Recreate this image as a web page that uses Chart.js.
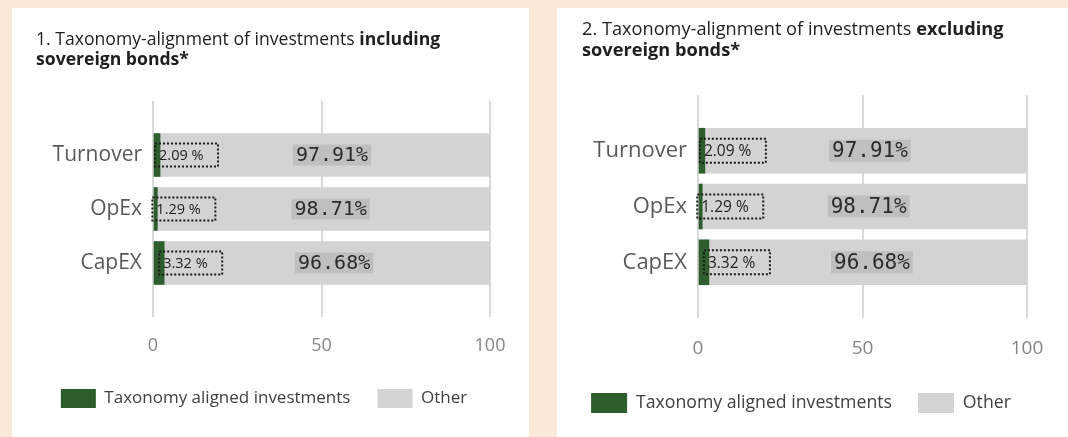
<!DOCTYPE html>
<html><head><meta charset="utf-8">
<script src="https://cdn.jsdelivr.net/npm/chart.js@4.4.1/dist/chart.umd.min.js"></script>
<style>
html,body{margin:0;padding:0;background:#fae8d8;width:1068px;height:437px;overflow:hidden;font-family:'Open Sans',sans-serif}
.panel{position:absolute;background:#fff;top:8px;height:429px}
#p1{left:12px;width:517px}
#p2{left:557px;width:511px}
.panel canvas{position:absolute;left:0;top:0}
.title{position:absolute;color:#1f1f1f;white-space:nowrap}
.title b{font-weight:700}
#t1{left:24px;top:20px;font-size:17.6px;line-height:20px}
#t2{left:25px;top:10px;font-size:18.2px;line-height:21px}
</style></head>
<body>
<div class="panel" id="p1"><canvas id="c1"></canvas><div class="title" id="t1">1. Taxonomy-alignment of investments <b>including</b><br><b>sovereign bonds*</b></div></div>
<div class="panel" id="p2"><canvas id="c2"></canvas><div class="title" id="t2">2. Taxonomy-alignment of investments <b>excluding</b><br><b>sovereign bonds*</b></div></div>
<script>
// ---- data ----
const categories = ['Turnover', 'OpEx', 'CapEX'];
const seriesNames = ['Taxonomy aligned investments', 'Other'];
const alignedIncluding = [2.09, 1.29, 3.32];
const otherIncluding = [97.91, 98.71, 96.68];
const alignedExcluding = [2.09, 1.29, 3.32];
const otherExcluding = [97.91, 98.71, 96.68];
const xTickValues = [0, 50, 100];

const GREEN = '#2e5e2e';
const GREY = '#d3d3d3';

const labelPlugin = {
  id: 'valueLabels',
  afterDatasetsDraw(chart, args, o) {
    const ctx = chart.ctx;
    const m0 = chart.getDatasetMeta(0), m1 = chart.getDatasetMeta(1);
    const d0 = chart.data.datasets[0].data, d1 = chart.data.datasets[1].data;
    ctx.save();
    m0.data.forEach((bar, i) => {
      if (d0[i] == null) return;
      const yc = bar.y;
      // small dotted box with aligned value
      const bx = Math.max(bar.x, bar.base) - o.back;
      const bw = o.boxW, bh = o.boxH;
      ctx.setLineDash([2, 2]);
      ctx.lineWidth = 2;
      ctx.strokeStyle = '#1a1a1a';
      ctx.strokeRect(bx + 1, yc - bh / 2, bw, bh);
      ctx.setLineDash([]);
      ctx.font = o.smallFont;
      ctx.fillStyle = '#222222';
      ctx.textAlign = 'left';
      ctx.textBaseline = 'middle';
      ctx.fillText(d0[i].toFixed(2) + ' %', bx + 5, yc + 1);
      // big label on "other" segment
      const ob = m1.data[i];
      const cx = (ob.x + ob.base) / 2 + o.shift;
      ctx.font = o.bigFont;
      const txt = d1[i].toFixed(2) + '%';
      const tw = ctx.measureText(txt).width;
      ctx.fillStyle = '#bfbfbf';
      ctx.fillRect(cx - tw / 2 - 3, yc - o.bigH / 2, tw + 6, o.bigH);
      ctx.fillStyle = '#2b2b2b';
      ctx.textAlign = 'center';
      ctx.fillText(txt, cx, yc + 1);
    });
    ctx.restore();
  }
};

function makeChart(id, aligned, other, p) {
  const cv = document.getElementById(id);
  cv.width = p.w; cv.height = p.h;
  cv.style.width = p.w + 'px'; cv.style.height = p.h + 'px';
  const labels = [''].concat(categories, ['']);
  const a = [null].concat(aligned, [null]);
  const b = [null].concat(other, [null]);
  return new Chart(cv, {
    type: 'bar',
    data: {
      labels: labels,
      datasets: [
        { label: seriesNames[0], data: a, backgroundColor: GREEN, borderWidth: 0, barThickness: p.bar },
        { label: seriesNames[1], data: b, backgroundColor: GREY, borderWidth: 0, barThickness: p.bar }
      ]
    },
    options: {
      indexAxis: 'y',
      responsive: false,
      animation: false,
      layout: { padding: { top: p.top, left: 0, right: p.right, bottom: p.bottom } },
      scales: {
        x: {
          stacked: true, min: 0, max: 100,
          afterBuildTicks(s) { s.ticks = xTickValues.map(v => ({ value: v })); },
          afterFit(s) { s.height = p.xH; },
          grid: { color: '#d9d9d9', lineWidth: 2, drawTicks: false },
          border: { display: false },
          ticks: { padding: p.xPad, color: '#858585', font: { family: 'Open Sans', size: p.xFont } }
        },
        y: {
          stacked: true, offset: false,
          afterFit(s) { s.width = p.yW; },
          grid: { display: false, drawTicks: false },
          border: { display: false },
          ticks: { padding: p.yPad, color: '#595959', autoSkip: false, font: { family: 'Open Sans', size: p.yFont } }
        },
        yRight: {
          type: 'linear', position: 'right', display: true,
          afterFit(s) { s.width = p.rExtra; },
          grid: { display: false, drawTicks: false },
          border: { display: false },
          ticks: { display: false }
        }
      },
      plugins: {
        legend: {
          position: 'bottom',
          labels: { boxWidth: p.lbW, boxHeight: p.lbH, padding: p.lPad, color: '#404040', font: { family: 'Open Sans', size: p.lFont } }
        },
        tooltip: { enabled: false },
        valueLabels: p.lab
      }
    },
    plugins: [labelPlugin]
  });
}

makeChart('c1', alignedIncluding, otherIncluding, {
  w: 517, h: 429, top: 93, right: 13, rExtra: 26, bottom: 19, bar: 43,
  xH: 45, xPad: 18, xFont: 18, yW: 141, yPad: 11, yFont: 21,
  lbW: 35, lbH: 19, lPad: 27, lFont: 17,
  lab: { back: 6, boxW: 63, boxH: 23, smallFont: '14.5px "Open Sans"', bigFont: '20px "DejaVu Sans Mono"', bigH: 21, shift: 7 }
});
makeChart('c2', alignedExcluding, otherExcluding, {
  w: 511, h: 429, top: 87, right: 23, rExtra: 18, bottom: 14, bar: 45,
  xH: 49, xPad: 19, xFont: 19, yW: 141, yPad: 11, yFont: 22,
  lbW: 36, lbH: 20, lPad: 26, lFont: 17.7,
  lab: { back: 6, boxW: 66, boxH: 24, smallFont: '15.5px "Open Sans"', bigFont: '21px "DejaVu Sans Mono"', bigH: 22, shift: 4 }
});
</script>
</body></html>
